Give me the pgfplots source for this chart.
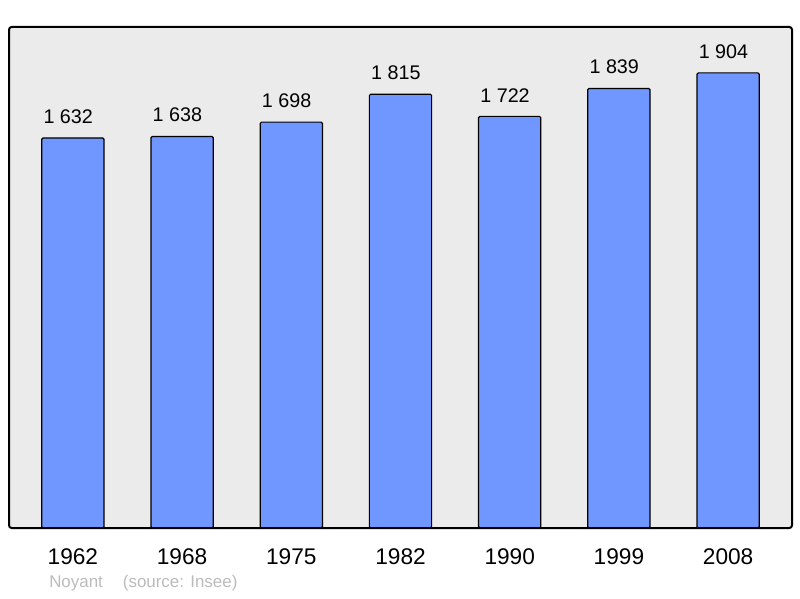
\documentclass[border=0pt]{standalone}
\usepackage{pgfplots}
\pgfplotsset{compat=1.18}
\usepackage{fontspec}
\setmainfont{Liberation Sans}
\definecolor{barblue}{HTML}{7096FF}
\definecolor{bgray}{HTML}{EBEBEB}
\definecolor{srcgray}{HTML}{BBBBBB}
\begin{document}
\begin{tikzpicture}[x=0.75pt,y=0.75pt]
\begin{axis}[
  scale only axis,
  width=587.25pt, height=375.75pt,
  xmin=-0.585, xmax=6.585,
  ymin=0, ymax=2096,
  hide y axis,
  axis x line=none,
  xtick=data,
  xticklabels={1962,1968,1975,1982,1990,1999,2008},
  axis background/.style={fill=bgray},
  ybar, bar width=0.57,
  nodes near coords,
  point meta=explicit symbolic,
  every node near coord/.append style={font=\fontsize{14.8pt}{16pt}\selectfont, black, yshift=7pt, xshift=-3.5pt},
  clip=false,
]
\addplot[fill=barblue, draw=black, line width=0.9pt, rounded corners=1pt] coordinates {
 (0,1632) [1 632]
 (1,1638) [1 638]
 (2,1698) [1 698]
 (3,1815) [1 815]
 (4,1722) [1 722]
 (5,1839) [1 839]
 (6,1904) [1 904]
};
\draw[black, line width=1.5pt, rounded corners=2pt] (rel axis cs:0,0) rectangle (rel axis cs:1,1);
\foreach \i/\yr in {0/1962,1/1968,2/1975,3/1982,4/1990,5/1999,6/2008}{
  \edef\tmp{\noexpand\node[font=\noexpand\fontsize{17pt}{20pt}\noexpand\selectfont, anchor=base] at (axis cs:\i,0) [yshift=-27.5pt] {\yr};}
  \tmp
}
\node[font=\fontsize{12.7pt}{14pt}\selectfont, text=srcgray, anchor=base west, inner sep=0pt] at (rel axis cs:0,0) [xshift=30pt, yshift=-44.5pt] {Noyant\hspace{15pt}(source: Insee)};
\end{axis}
\pgfresetboundingbox
\useasboundingbox ([xshift=-6.75pt,yshift=-52.5pt]current axis.south west) rectangle ([xshift=6pt,yshift=20.25pt]current axis.north east);
\end{tikzpicture}
\end{document}
